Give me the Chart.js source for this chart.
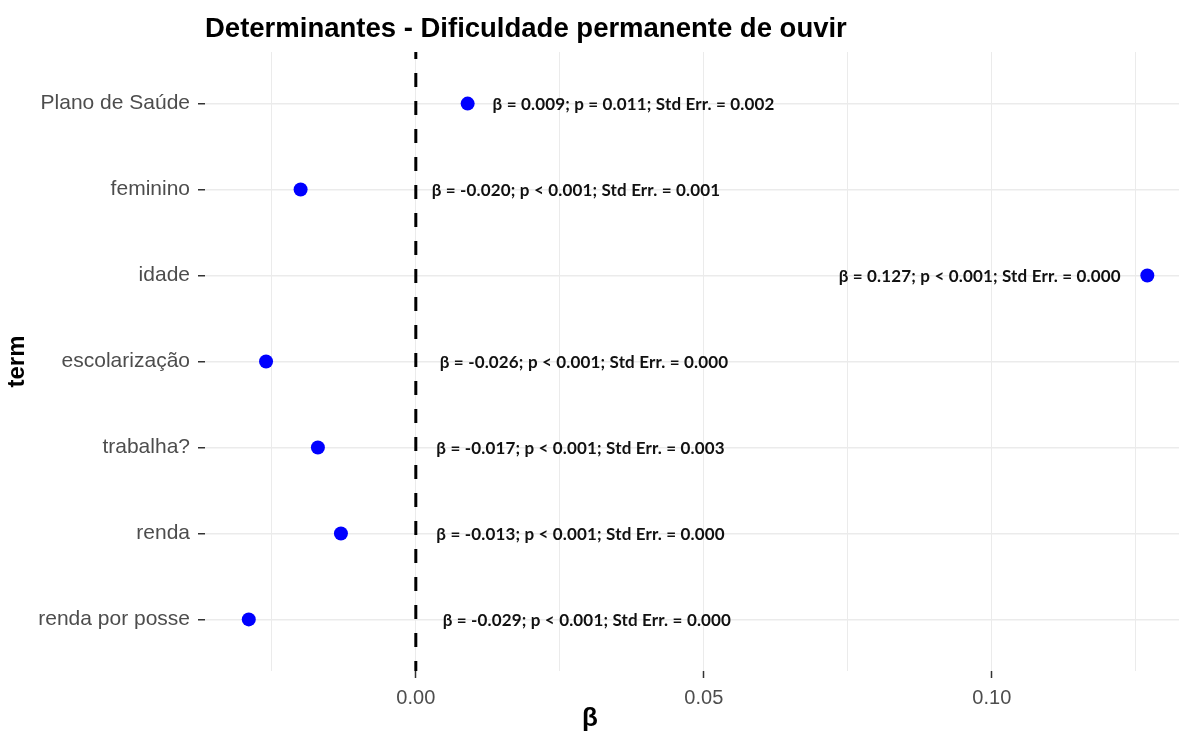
<!DOCTYPE html>
<html>
<head>
<meta charset="utf-8">
<title>Determinantes - Dificuldade permanente de ouvir</title>
<script src="https://cdn.jsdelivr.net/npm/chart.js@4/dist/chart.umd.min.js"></script>
<style>
  html, body { margin: 0; padding: 0; background: #ffffff; }
  #wrap { width: 1179px; height: 734px; }
</style>
</head>
<body>
<div id="wrap"><canvas id="chart" width="1179" height="734"></canvas></div>
<script>
// Model terms (top to bottom) and their coefficients
const terms = ['Plano de Saúde', 'feminino', 'idade', 'escolarização', 'trabalha?', 'renda', 'renda por posse'];
const beta = [0.009, -0.020, 0.127, -0.026, -0.017, -0.013, -0.029];
const pText = ['= 0.011', '< 0.001', '< 0.001', '< 0.001', '< 0.001', '< 0.001', '< 0.001'];
const stdErr = [0.002, 0.001, 0.000, 0.000, 0.003, 0.000, 0.000];
// Horizontal anchor (in β units) of each annotation
const labelX = [0.0378, 0.0278, 0.0979, 0.0292, 0.0286, 0.0286, 0.0297];
// x-axis breaks
const majorTicks = [0, 0.05, 0.10];
const minorTicks = [-0.025, 0.025, 0.075, 0.125];

const annotations = terms.map((t, i) =>
  `β = ${beta[i].toFixed(3)}; p ${pText[i]}; Std Err. = ${stdErr[i].toFixed(3)}`);

const GRID = '#EBEBEB';
const TICK_TEXT = '#4D4D4D';
const SANS = '"Liberation Sans", Arial, sans-serif';

const decorations = {
  id: 'decorations',
  afterDatasetsDraw(chart) {
    const ctx = chart.ctx;
    const xs = chart.scales.x, ys = chart.scales.y;
    ctx.save();
    ctx.fillStyle = '#111111';
    ctx.font = 'bold 17px Lato, "Open Sans", sans-serif';
    ctx.letterSpacing = '0.15px';
    ctx.textAlign = 'center';
    ctx.textBaseline = 'middle';
    annotations.forEach((txt, i) => {
      ctx.fillText(txt, xs.getPixelForValue(labelX[i]), ys.getPixelForValue(i) + 1);
    });
    ctx.restore();
  },
  afterDraw(chart) {
    const ctx = chart.ctx;
    const area = chart.chartArea;
    ctx.save();
    ctx.fillStyle = '#000';
    // plot title, left-aligned with the panel
    ctx.font = 'bold 27.5px ' + SANS;
    ctx.textAlign = 'left';
    ctx.textBaseline = 'alphabetic';
    ctx.fillText('Determinantes - Dificuldade permanente de ouvir', area.left, 37);
    // x-axis title
    ctx.font = 'bold 26px ' + SANS;
    ctx.textAlign = 'center';
    ctx.textBaseline = 'middle';
    ctx.fillText('β', 590, 719);
    // y-axis title
    ctx.translate(17, (area.top + area.bottom) / 2);
    ctx.rotate(-Math.PI / 2);
    ctx.font = 'bold 24px ' + SANS;
    ctx.fillText('term', 0, 0);
    ctx.restore();
  }
};

new Chart(document.getElementById('chart'), {
  type: 'scatter',
  data: {
    datasets: [
      {
        // reference line at β = 0
        type: 'line',
        data: [{ x: 0, y: -0.6 }, { x: 0, y: 6.6 }],
        borderColor: '#000',
        borderWidth: 3,
        borderDash: [14, 14],
        borderDashOffset: 7,
        pointRadius: 0,
        fill: false,
        order: 2
      },
      {
        data: terms.map((t, i) => ({ x: beta[i], y: i })),
        backgroundColor: '#0000FF',
        borderWidth: 0,
        pointRadius: 7,
        pointHoverRadius: 7,
        order: 1
      }
    ]
  },
  options: {
    responsive: false,
    animation: false,
    devicePixelRatio: 1,
    layout: { autoPadding: false, padding: { top: 52, right: 0, bottom: 0, left: 0 } },
    plugins: {
      legend: { display: false },
      tooltip: { enabled: false },
      title: { display: false }
    },
    scales: {
      x: {
        type: 'linear',
        min: -0.0366,
        max: 0.1325,
        afterBuildTicks(scale) {
          scale.ticks = [...minorTicks, ...majorTicks].sort((a, b) => a - b).map(v => ({ value: v }));
        },
        afterFit(scale) {
          scale.height = 63;
          scale.paddingLeft = 0;
          scale.paddingRight = 0;
        },
        border: { display: false },
        grid: {
          color: GRID,
          lineWidth: 1,
          drawTicks: true,
          tickLength: 7,
          tickColor: ctx => (ctx.tick && majorTicks.some(m => Math.abs(m - ctx.tick.value) < 1e-9)) ? '#333333' : 'rgba(0,0,0,0)',
          tickWidth: 1.5
        },
        ticks: {
          autoSkip: false,
          maxRotation: 0,
          padding: 8,
          color: TICK_TEXT,
          font: { family: SANS, size: 20 },
          callback: v => majorTicks.some(m => Math.abs(m - v) < 1e-9) ? v.toFixed(2) : ''
        }
      },
      y: {
        type: 'linear',
        reverse: true,
        min: -0.6,
        max: 6.6,
        afterBuildTicks(scale) {
          scale.ticks = terms.map((t, i) => ({ value: i }));
        },
        afterFit(scale) { scale.width = 205; },
        border: { display: false },
        grid: {
          color: GRID,
          lineWidth: 1.5,
          drawTicks: true,
          tickLength: 7,
          tickColor: '#333333',
          tickWidth: 1.5
        },
        ticks: {
          autoSkip: false,
          padding: 8,
          color: TICK_TEXT,
          font: { family: SANS, size: 21 },
          callback: v => terms[v]
        }
      }
    }
  },
  plugins: [decorations]
});
</script>
</body>
</html>
